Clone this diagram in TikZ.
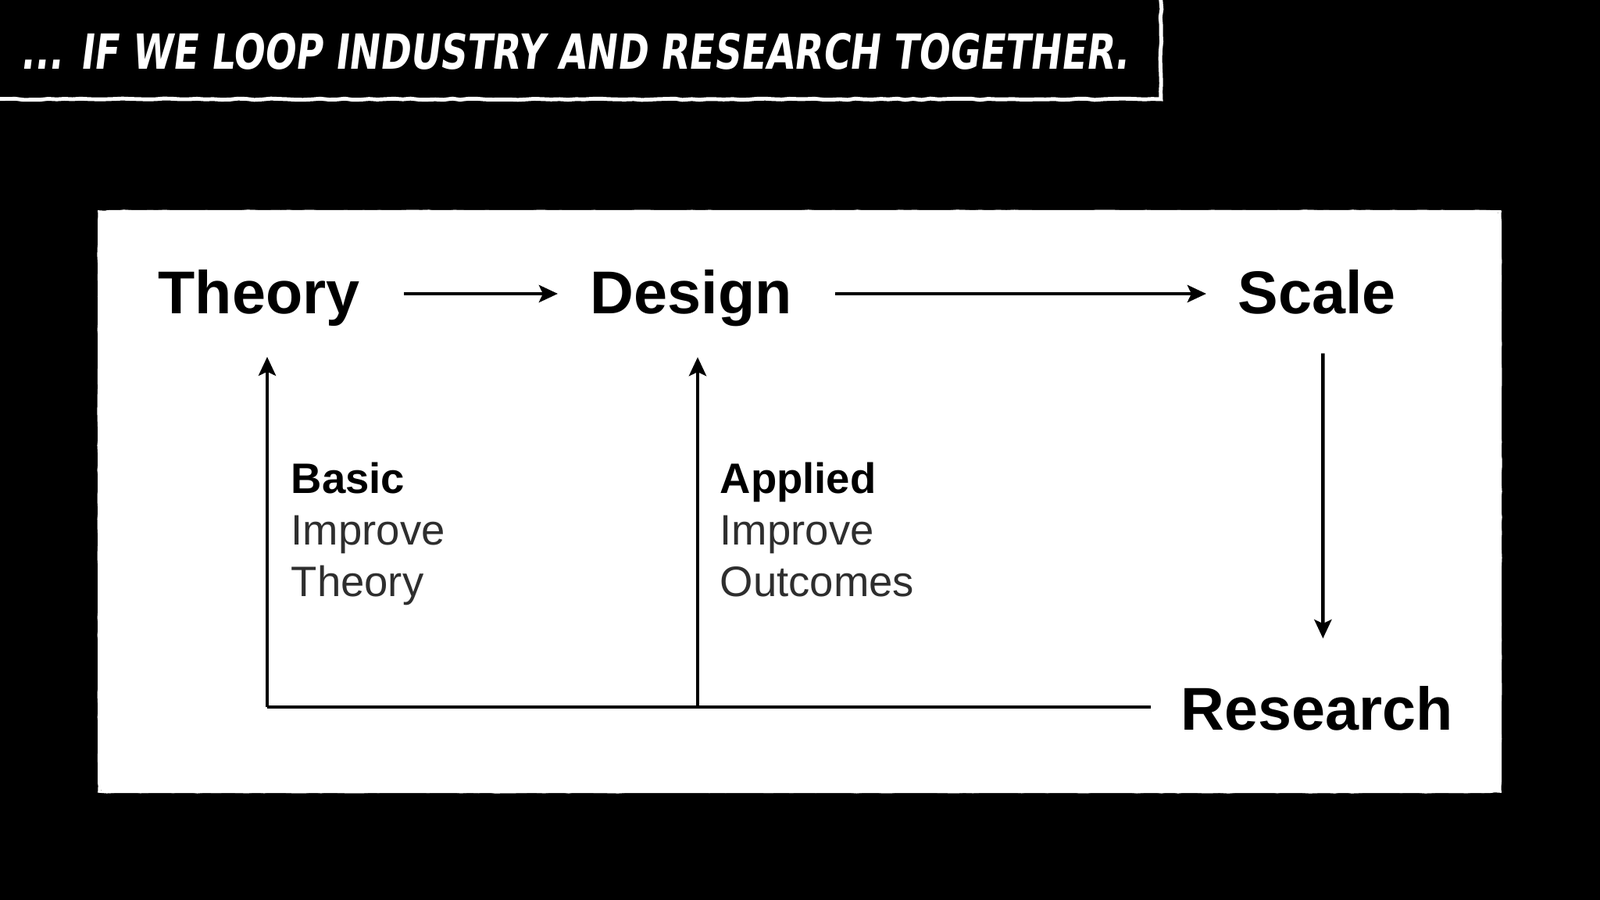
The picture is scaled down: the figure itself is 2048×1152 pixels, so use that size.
\documentclass[tikz,border=0pt]{standalone}
\usepackage{fontspec}
\setmainfont{Liberation Sans}
\newfontfamily\titlefont{DejaVu Sans}[FakeSlant=0.12, FakeStretch=0.72]
\usetikzlibrary{arrows.meta, decorations.pathmorphing}
\definecolor{labgray}{HTML}{2E2E2E}
\tikzset{
  main/.style={font=\fontsize{22}{26}\selectfont\bfseries, text=black, inner sep=0pt, anchor=base west},
  lab/.style={font=\fontsize{15.5}{18.7}\selectfont, inner sep=0pt, anchor=base west, text=labgray},
  arr/.style={line width=1.3pt, -{Stealth[length=0.24cm,width=0.22cm,inset=0.05cm]}},
  loopline/.style={line width=1.3pt},
  rough/.style={decorate, decoration={random steps, segment length=3pt, amplitude=0.25pt}},
}
\begin{document}
\begin{tikzpicture}[x=0.01cm, y=-0.01cm]
  % background
  \fill[black] (0,0) rectangle (2048,1152);
  \useasboundingbox (0,0) rectangle (2048,1152);

  % title box
  \draw[white, line width=1.4pt, rough] (1486,-10) -- (1486,127) -- (-10,127);
  \node[inner sep=0pt, anchor=base west, text=white] (title) at (26,89)
    {\resizebox{14.17cm}{0.46cm}{\titlefont\bfseries ... IF WE LOOP INDUSTRY AND RESEARCH TOGETHER.}};

  % white panel
  \fill[white, rounded corners=4pt] (125,269) rectangle (1922,1015);
  \draw[white, line width=1pt, rough] (127,271) -- (1920,271) -- (1920,1013) -- (127,1013) -- cycle;

  % main nodes
  \node[main] (theory) at (202,402) {Theory};
  \node[main] (design) at (755,402) {Design};
  \node[main] (scale) at (1584,402) {Scale};
  \node[main] (research) at (1511,934) {Research};

  % labels
  \node[lab] (basic) at (372,632)
    {\begin{tabular}[t]{@{}l@{}}\textcolor{black}{\bfseries Basic}\\ Improve\\ Theory\end{tabular}};
  \node[lab] (applied) at (921,632)
    {\begin{tabular}[t]{@{}l@{}}\textcolor{black}{\bfseries Applied}\\ Improve\\ Outcomes\end{tabular}};

  % top arrows
  \draw[arr, shorten <=0.56cm, shorten >=0.41cm]
    ([yshift=0.26cm]theory.base east) -- ([yshift=0.26cm]design.base west);
  \draw[arr, shorten <=0.55cm, shorten >=0.40cm]
    ([yshift=0.26cm]design.base east) -- ([yshift=0.26cm]scale.base west);
  % scale -> research
  \draw[arr, shorten <=0.49cm, shorten >=0.60cm]
    ([xshift=0.075cm]scale.south) -- ([xshift=0.075cm]research.north);

  % feedback loop
  \coordinate (c1) at (342,905);
  \coordinate (c2) at (893,905);
  \draw[loopline, shorten <=0.38cm] (c1 -| research.west) -- (c1);
  \draw[arr, shorten >=0.38cm] (c1) -- (c1 |- theory.south);
  \draw[arr, shorten >=0.38cm] (c2) -- (c2 |- design.south);
\end{tikzpicture}
\end{document}
